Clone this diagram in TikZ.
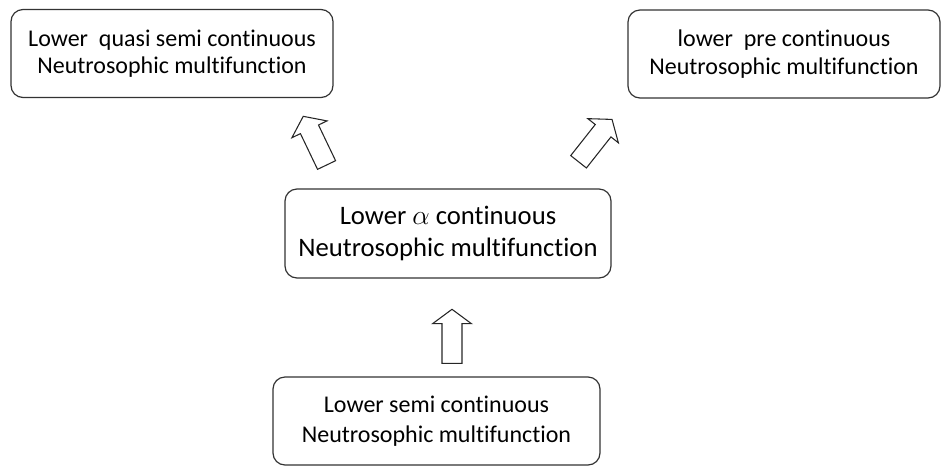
\documentclass[tikz,border=0pt]{standalone}
\usepackage{fontspec}
\setmainfont{Carlito}[Ligatures={NoCommon}]
\usetikzlibrary{shapes.arrows}

\tikzset{
  mfbox/.style={draw=black!80, line width=0.9pt, rounded corners=9pt, align=center, inner sep=0pt},
  upblock/.style={single arrow, draw=black!85, line width=0.8pt, minimum height=40.5pt, minimum width=28.5pt,
    inner sep=7.1pt, single arrow head extend=7.1pt, single arrow tip angle=107}
}

\begin{document}
\begin{tikzpicture}[x=0.75pt,y=0.75pt,yscale=-1,xscale=1]
\useasboundingbox (0,0) rectangle (942,465);

%Rounded Rect [id:quasi]
\node [mfbox, minimum width=241.5pt, minimum height=66pt, font=\fontsize{18}{20.6}\selectfont] (quasi) at (172,53.5)
  {Lower\ \ quasi semi continuous\\ Neutrosophic multifunction};
%Rounded Rect [id:pre]
\node [mfbox, minimum width=234pt, minimum height=66pt, font=\fontsize{18}{20.6}\selectfont] (pre) at (784,54)
  {lower\ \ pre continuous\\Neutrosophic multifunction};
%Rounded Rect [id:alpha]
\node [mfbox, minimum width=244.5pt, minimum height=66.75pt, font=\fontsize{20}{24}\selectfont] (alpha) at (448,233.5)
  {Lower $\alpha$ continuous\\ Neutrosophic multifunction};
%Rounded Rect [id:semi]
\node [mfbox, minimum width=245.25pt, minimum height=66pt, font=\fontsize{18}{22.5}\selectfont] (semi) at (436.5,421)
  {Lower semi continuous\\Neutrosophic multifunction};

%Block Arrows
\node [upblock, rotate=115.6] (toquasi) at (316.5,144) {};
\node [upblock, rotate=51.7] (topre) at (593,143.5) {};
\node [upblock, rotate=90] (toalpha) at (452,340) {};

\end{tikzpicture}
\end{document}
